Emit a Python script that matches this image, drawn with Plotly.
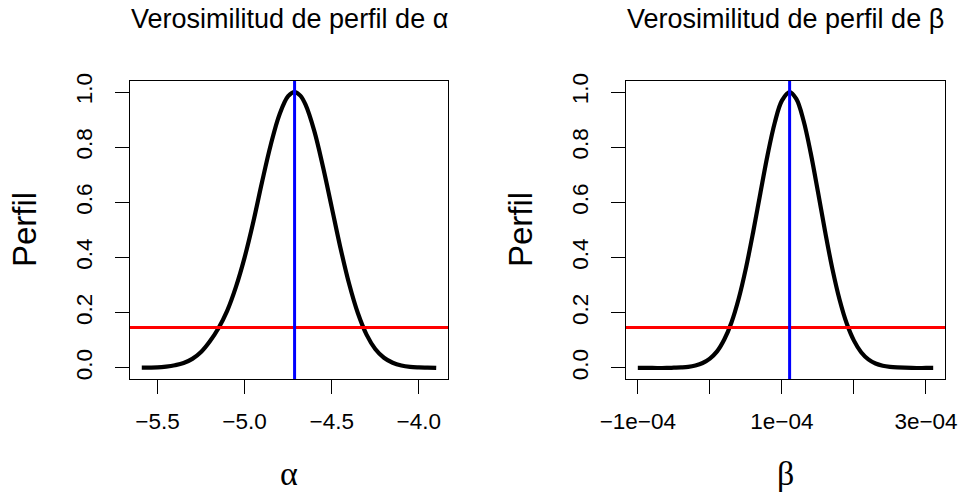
import plotly.graph_objects as go

# perfil de alpha
alpha_x = [-5.59, -5.50, -5.45, -5.40, -5.35, -5.30, -5.25, -5.20, -5.15, -5.10,
           -5.05, -5.00, -4.95, -4.90, -4.85, -4.80, -4.75, -4.713, -4.68, -4.65,
           -4.60, -4.55, -4.50, -4.45, -4.40, -4.35, -4.30, -4.25, -4.20, -4.15,
           -4.10, -4.05, -4.00, -3.95, -3.90]
alpha_perfil = [0.001, 0.002, 0.005, 0.010, 0.018, 0.033, 0.058, 0.096, 0.144, 0.207,
                0.293, 0.400, 0.529, 0.673, 0.808, 0.918, 0.985, 1.000, 0.987, 0.954,
                0.859, 0.729, 0.583, 0.436, 0.305, 0.199, 0.121, 0.069, 0.037, 0.019,
                0.009, 0.004, 0.002, 0.001, 0.000]

# perfil de beta
beta_x = [-1.0e-4, -0.8e-4, -0.6e-4, -0.5e-4, -0.4e-4, -0.3e-4, -0.2e-4, -0.1e-4, 0.0, 0.1e-4,
          0.2e-4, 0.3e-4, 0.4e-4, 0.5e-4, 0.6e-4, 0.7e-4, 0.8e-4, 0.9e-4, 1.0e-4, 1.107e-4,
          1.2e-4, 1.3e-4, 1.4e-4, 1.5e-4, 1.6e-4, 1.7e-4, 1.8e-4, 1.9e-4, 2.0e-4, 2.1e-4,
          2.2e-4, 2.3e-4, 2.4e-4, 2.5e-4, 2.6e-4, 2.8e-4, 3.0e-4, 3.1e-4]
beta_perfil = [0.000, 0.000, 0.000, 0.001, 0.002, 0.004, 0.009, 0.018, 0.034, 0.060,
               0.103, 0.165, 0.251, 0.361, 0.491, 0.632, 0.770, 0.888, 0.969, 1.000,
               0.975, 0.897, 0.779, 0.639, 0.494, 0.360, 0.248, 0.161, 0.099, 0.057,
               0.031, 0.016, 0.008, 0.004, 0.002, 0.000, 0.000, 0.000]

alpha_hat = -4.713
beta_hat = 1.107e-4
corte = 0.1465  # exp(-qchisq(0.95,1)/2)

alpha_ticks = [-5.5, -5.0, -4.5, -4.0]
alpha_ticktext = ['\u22125.5', '\u22125.0', '\u22124.5', '\u22124.0']
beta_ticks = [-1e-4, 0, 1e-4, 2e-4, 3e-4]
beta_ticktext = ['\u22121e\u221204', '', '1e\u221204', '', '3e\u221204']
y_ticks = [0, 0.2, 0.4, 0.6, 0.8, 1.0]
y_ticktext = ['0.0', '0.2', '0.4', '0.6', '0.8', '1.0']

W, H = 962, 493
FONT = 'Liberation Sans, Arial, Helvetica, sans-serif'


def rango(v):
    d = (max(v) - min(v)) * 0.04
    return [min(v) - d, max(v) + d]


fig = go.Figure()
fig.add_trace(go.Scatter(x=alpha_x, y=alpha_perfil, mode='lines', line_shape='spline',
                         line=dict(color='black', width=4.2), xaxis='x', yaxis='y'))
fig.add_trace(go.Scatter(x=beta_x, y=beta_perfil, mode='lines', line_shape='spline',
                         line=dict(color='black', width=4.2), xaxis='x2', yaxis='y2'))

# lineas de referencia
for xa, ya, xh in [('x', 'y', alpha_hat), ('x2', 'y2', beta_hat)]:
    fig.add_shape(type='line', xref=xa + ' domain', yref=ya, x0=0, x1=1, y0=corte, y1=corte,
                  line=dict(color='#FF0000', width=3))
    fig.add_shape(type='line', xref=xa, yref=ya + ' domain', x0=xh, x1=xh, y0=0, y1=1,
                  line=dict(color='#0000FF', width=3))

ejes = dict(showline=True, mirror=True, linecolor='black', linewidth=1.2,
            ticks='outside', ticklen=14, tickwidth=1.2, tickcolor='black',
            showgrid=False, zeroline=False, automargin=False,
            tickfont=dict(family=FONT, size=22.5, color='black'))

ydom = [1 - 379 / H, 1 - 81 / H]
fig.update_layout(
    width=W, height=H,
    margin=dict(l=0, r=0, t=0, b=0),
    plot_bgcolor='white', paper_bgcolor='white',
    showlegend=False,
    xaxis=dict(domain=[130 / W, 448 / W], range=rango(alpha_x), tickvals=alpha_ticks,
               ticktext=alpha_ticktext, ticklabelstandoff=8, **ejes),
    yaxis=dict(domain=ydom, range=[-0.04, 1.04], tickvals=y_ticks, ticktext=y_ticktext,
               tickangle=-90, ticklabelstandoff=14, **ejes),
    xaxis2=dict(domain=[626 / W, 945 / W], range=rango(beta_x), tickvals=beta_ticks,
                ticktext=beta_ticktext, ticklabelstandoff=8, anchor='y2', **ejes),
    yaxis2=dict(domain=ydom, range=[-0.04, 1.04], tickvals=y_ticks, ticktext=y_ticktext,
                tickangle=-90, ticklabelstandoff=14, anchor='x2', **ejes),
)

# titulos y etiquetas de ejes
anot = [
    dict(text='Verosimilitud de perfil de \u03b1', x=289 / W, y=1 - 19 / H, size=27, fam=FONT, ang=0),
    dict(text='Verosimilitud de perfil de \u03b2', x=785.5 / W, y=1 - 19 / H, size=27, fam=FONT, ang=0),
    dict(text='Perfil', x=25 / W, y=1 - 230 / H, size=33, fam=FONT, ang=-90),
    dict(text='Perfil', x=521 / W, y=1 - 230 / H, size=33, fam=FONT, ang=-90),
    dict(text='\u03b1', x=289 / W, y=1 - 473 / H, size=34, fam='Liberation Serif, serif', ang=0),
    dict(text='\u03b2', x=785.5 / W, y=1 - 473 / H, size=34, fam='Liberation Serif, serif', ang=0),
]
for a in anot:
    fig.add_annotation(text=a['text'], x=a['x'], y=a['y'], xref='paper', yref='paper',
                       xanchor='center', yanchor='middle', showarrow=False, textangle=a['ang'],
                       font=dict(family=a['fam'], size=a['size'], color='black'))

# sin margen del body para que la figura ocupe la ventana
fig.write_html('out.html', config={'displayModeBar': False},
               post_script="document.body.style.margin='0';")
